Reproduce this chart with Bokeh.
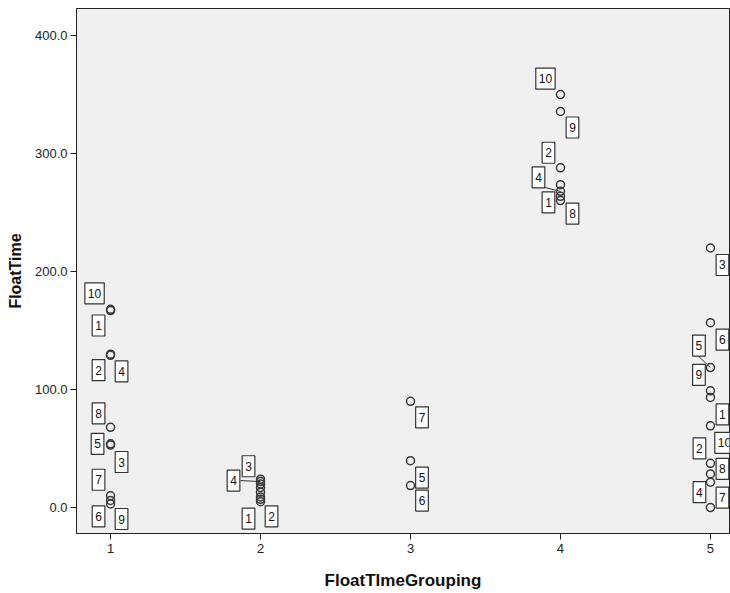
from bokeh.plotting import figure
from bokeh.models import FixedTicker, NumeralTickFormatter, ColumnDataSource
from bokeh.core.properties import value
from bokeh.embed import file_html
from bokeh.resources import INLINE

# ---- data ----
grouping = [1]*10 + [2]*8 + [3]*3 + [4]*7 + [5]*10
float_time = [
    168, 167, 130, 129, 68, 54, 53, 10, 6, 3,            # group 1
    24, 22, 20, 17, 13, 9, 7, 5,                          # group 2
    90, 39.7, 18.6,                                       # group 3
    350, 335.7, 288, 273.7, 268, 263.8, 260.2,            # group 4
    220, 156.7, 118.6, 98.9, 93.3, 69.3, 37.5, 28.5, 21.5, 0,  # group 5
]
case_labels = [
    "10", "1", "2", "4", "8", "5", "3", "7", "6", "9",
    "3", "4", "", "", "", "", "2", "1",
    "7", "5", "6",
    "10", "9", "2", "", "4", "1", "8",
    "3", "6", "5", "9", "1", "10", "2", "8", "4", "7",
]
x_ticks = [1, 2, 3, 4, 5]
y_ticks = [0, 100, 200, 300, 400]

# ---- label placement (screen pixel offsets, y down) ----
label_dx = [
    -16, -12, -12, 11, -12, -13, 11, -12, -12, 11,
    -12, -27, 0, 0, 0, 0, 11, -12,
    11.5, 11.5, 11.5,
    -15, 12, -12, 0, -22, -12, 12,
    12, 12, -11.5, -11.5, 12, 14, -11, 12, -11, 12,
]
label_dy = [
    -16, 15, 16, 16, -14, 0, 17, -16, 16, 15,
    -13, -1, 0, 0, 0, 0, 17, 17,
    16, 17, 15,
    -16, 16, -15, 0, -14, 6, 13,
    17, 17, -22, -16, 17, 17, -15, -5, 10, -10,
]
# leader lines: (index, box-edge dx, box-edge dy)
leaders = [(11, -20, -1), (25, -16, -4), (30, -11.5, -11)]

W, H = 730, 593
BL, BR, BT, BB = 76, 1, 8, 60
x0, x1 = 0.773, 5.127
y0, y1 = -22.0, 423.0

p = figure(width=W, height=H, x_range=(x0, x1), y_range=(y0, y1),
           output_backend="svg", toolbar_location=None,
           min_border_left=BL, min_border_right=BR,
           min_border_top=BT, min_border_bottom=BB)

p.background_fill_color = "#f0f0f0"
p.border_fill_color = "white"
p.outline_line_color = "#222222"
p.outline_line_width = 1
p.grid.visible = False

for ax in (p.xaxis[0], p.yaxis[0]):
    ax.major_tick_out = 6
    ax.major_tick_in = 0
    ax.minor_tick_line_color = None
    ax.axis_line_color = "#222222"
    ax.major_tick_line_color = "#222222"
    ax.major_label_text_font = "Liberation Sans"
    ax.major_label_text_font_size = "13px"
    ax.major_label_text_color = "#222222"
    ax.axis_label_text_font = "Liberation Sans"
    ax.axis_label_text_font_style = "bold"
    ax.axis_label_text_color = "#111111"

p.xaxis.axis_label_text_font_size = "17px"
p.yaxis.axis_label_text_font_size = "16px"
p.xaxis.ticker = FixedTicker(ticks=x_ticks)
p.yaxis.ticker = FixedTicker(ticks=y_ticks)
p.yaxis.formatter = NumeralTickFormatter(format="0.0")
p.xaxis.axis_label = "FloatTImeGrouping"
p.yaxis.axis_label = "FloatTime"
p.xaxis.major_label_standoff = 4
p.yaxis.major_label_standoff = 3
p.xaxis.axis_label_standoff = 15
p.yaxis.axis_label_standoff = 8

# leader lines (converted from pixel offsets via the plot's own scale)
fw = W - BL - BR
fh = H - BT - BB
sx = fw / (x1 - x0)
sy = fh / (y1 - y0)
lx0, ly0, lx1, ly1 = [], [], [], []
for i, dx, dy in leaders:
    lx0.append(grouping[i]); ly0.append(float_time[i])
    lx1.append(grouping[i] + dx / sx); ly1.append(float_time[i] - dy / sy)
p.segment(lx0, ly0, lx1, ly1, line_color="#333333", line_width=1)

src = ColumnDataSource(dict(x=grouping, y=float_time))
p.scatter("x", "y", source=src, marker="circle", size=8,
          fill_color=None, line_color="#3a3a3a", line_width=1.5)

lab = ColumnDataSource(dict(
    x=[g for g, t in zip(grouping, case_labels) if t],
    y=[v for v, t in zip(float_time, case_labels) if t],
    t=[t for t in case_labels if t],
    dx=[d for d, t in zip(label_dx, case_labels) if t],
    dy=[d for d, t in zip(label_dy, case_labels) if t],
))
p.text("x", "y", text="t", source=lab, x_offset="dx", y_offset="dy",
       text_align="center", text_baseline="middle",
       text_font=value("Liberation Sans"), text_font_size="12px",
       text_color="#111111",
       background_fill_color="white", border_line_color="#333333",
       border_line_width=1.2, padding=(3, 6))

open("out.html", "w").write(file_html(p, INLINE))
